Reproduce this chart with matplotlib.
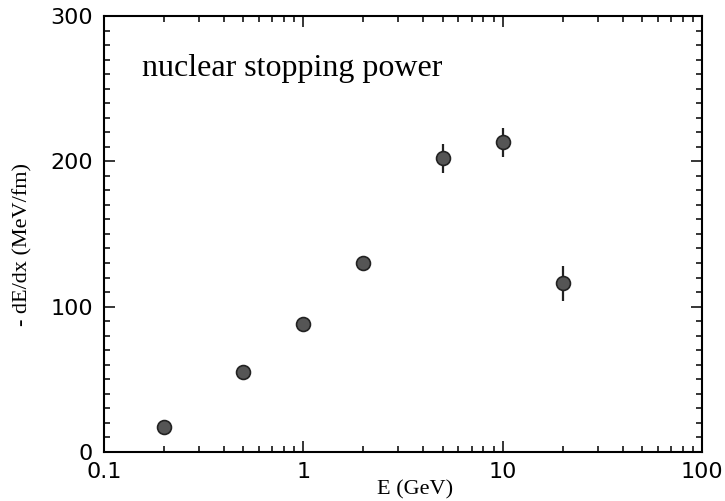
import numpy as np
import matplotlib
matplotlib.use('Agg')
from matplotlib import pyplot as plt
from matplotlib.ticker import MultipleLocator, LogLocator, NullFormatter, FixedLocator, FixedFormatter

# beam energy (GeV) and nuclear stopping power (MeV/fm)
energy = [0.2, 0.5, 1, 2, 5, 10, 20]
dedx = [17, 55, 88, 130, 202, 213, 116]
dedx_err = [3, 3, 3, 3, 10, 10, 12]

fig = plt.figure(figsize=(7.25, 5.01), dpi=100)
ax = fig.add_axes([0.1434, 0.098, 0.825, 0.870])

ax.errorbar(energy, dedx, yerr=dedx_err, fmt='o', color='#222222', ms=10,
            mfc='#555555', mec='#222222', mew=1.2, elinewidth=1.6, capsize=0)

ax.set_xscale('log')
ax.set_xlim(0.1, 100)
ax.set_ylim(0, 300)

ax.xaxis.set_major_locator(FixedLocator([0.1, 1, 10, 100]))
ax.xaxis.set_major_formatter(FixedFormatter(['0.1', '1', '10', '100']))
ax.xaxis.set_minor_locator(LogLocator(base=10, subs=np.arange(2, 10)))
ax.xaxis.set_minor_formatter(NullFormatter())
ax.yaxis.set_major_locator(MultipleLocator(100))
ax.yaxis.set_minor_locator(MultipleLocator(10))

ax.tick_params(which='both', direction='in', top=True, right=True, width=1.1)
ax.tick_params(which='major', length=8, labelsize=16)
ax.tick_params(axis='x', which='major', pad=7)
ax.tick_params(axis='y', which='major', pad=8)
ax.tick_params(which='minor', length=4)
for s in ax.spines.values():
    s.set_linewidth(1.5)

ax.text(0.064, 0.862, 'nuclear stopping power', transform=ax.transAxes,
        family='Liberation Serif', fontsize=23, va='baseline')

ax.set_xlabel('E (GeV)', family='Liberation Serif', fontsize=16)
ax.xaxis.set_label_coords(0.52, -0.065)
ax.set_ylabel('- dE/dx (MeV/fm)', family='Liberation Serif', fontsize=16)
ax.yaxis.set_label_coords(-0.12, 0.475)

plt.savefig('out.png', dpi=100)
